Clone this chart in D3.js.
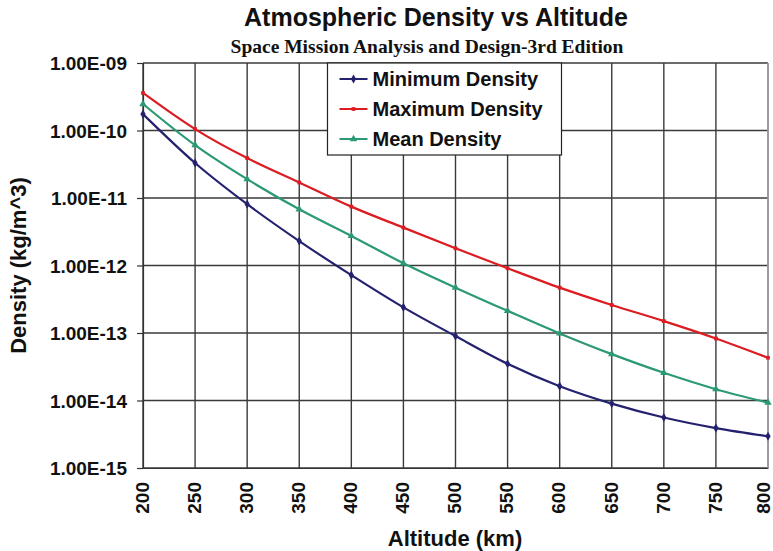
<!DOCTYPE html>
<head>
    <style>
        body { margin: 0; background: #fff; }
        svg { font-family: "Liberation Sans", Arial, sans-serif; font-weight: bold; }
        .grid line { stroke: #3a3a3a; stroke-width: 1.4px; }
        .axis path, .axis line { stroke: #333; stroke-width: 1.2px; }
        .axis text { font-weight: bold; fill: #111; font-family: "Liberation Sans", Arial, sans-serif; }
        .yaxis text { font-size: 19px; }
        .xaxis text { font-size: 19px; }
        path.series { fill: none; stroke-width: 2.2px; }
    </style>
</head>
<body>
    <script src="https://d3js.org/d3.v7.min.js"></script>
    <script>
        // data
        var altitudes = [200, 250, 300, 350, 400, 450, 500, 550, 600, 650, 700, 750, 800];
        var minDensity = [1.75e-10, 3.3e-11, 8.1e-12, 2.3e-12, 7.2e-13, 2.4e-13, 9.0e-14,
                          3.5e-14, 1.63e-14, 9.0e-15, 5.6e-15, 3.9e-15, 2.95e-15];
        var maxDensity = [3.6e-10, 1.05e-10, 3.9e-11, 1.7e-11, 7.45e-12, 3.64e-12, 1.8e-12,
                          9.1e-13, 4.7e-13, 2.6e-13, 1.5e-13, 8.3e-14, 4.3e-14];
        var meanDensity = [2.47e-10, 6.07e-11, 1.9e-11, 6.8e-12, 2.74e-12, 1.08e-12, 4.7e-13,
                           2.13e-13, 9.86e-14, 4.86e-14, 2.57e-14, 1.47e-14, 9.3e-15];
        var seriesNames = ['Minimum Density', 'Maximum Density', 'Mean Density'];
        var seriesColors = ['#24216f', '#dd1c22', '#2b9a73'];
        var yTicks = [1e-9, 1e-10, 1e-11, 1e-12, 1e-13, 1e-14, 1e-15];
        var yTickLabels = ['1.00E-09', '1.00E-10', '1.00E-11', '1.00E-12', '1.00E-13', '1.00E-14', '1.00E-15'];

        var W = 773, H = 551;
        var m = {left: 143, right: 5, top: 63, bottom: 83};
        var w = W - m.left - m.right, h = H - m.top - m.bottom;

        var svg = d3.select('body').append('svg')
                    .attr('width', W).attr('height', H);

        var x = d3.scaleLinear().domain([200, 800]).range([0, w]);
        var y = d3.scaleLog().domain([1e-15, 1e-9]).range([h, 0]);

        var g = svg.append('g')
                   .attr('transform', 'translate(' + m.left + ',' + m.top + ')');

        // grid
        var grid = g.append('g').attr('class', 'grid');
        grid.selectAll('.vx').data(altitudes).enter().append('line')
            .attr('x1', d => x(d)).attr('x2', d => x(d))
            .attr('y1', 0).attr('y2', h);
        grid.selectAll('.hy').data(yTicks).enter().append('line')
            .attr('x1', 0).attr('x2', w)
            .attr('y1', d => y(d)).attr('y2', d => y(d));
        g.append('line').attr('x1', w).attr('x2', w).attr('y1', 0).attr('y2', h)
            .attr('stroke', '#aaa').attr('stroke-width', 1.5);

        // axes
        var yAxis = d3.axisLeft(y).tickValues(yTicks)
                      .tickFormat((d, i) => yTickLabels[i]).tickSize(6).tickPadding(10);
        g.append('g').attr('class', 'axis yaxis').call(yAxis)
         .selectAll('text').attr('dy', '0.35em');

        var xAxis = d3.axisBottom(x).tickValues(altitudes).tickSize(0).tickPadding(8);
        var xa = g.append('g').attr('class', 'axis xaxis')
                  .attr('transform', 'translate(0,' + h + ')').call(xAxis);
        xa.select('.domain').attr('stroke', '#999');
        // last label sits at the right edge, nudge it in a little
        xa.selectAll('text')
          .attr('transform', 'rotate(-90)')
          .attr('text-anchor', 'end')
          .attr('x', -14)
          .attr('y', d => d === 800 ? -4 : 0)
          .attr('dy', '0.28em');

        // series
        var seriesData = [minDensity, maxDensity, meanDensity];
        var line = d3.line().curve(d3.curveMonotoneX)
                     .x((d, i) => x(altitudes[i]))
                     .y(d => y(d));

        var symbols = [d3.symbolDiamond, d3.symbolSquare, d3.symbolTriangle];
        seriesData.forEach(function(vals, k) {
            g.append('path').datum(vals)
             .attr('class', 'series')
             .attr('stroke', seriesColors[k])
             .attr('d', line);
            g.selectAll('.pt' + k).data(vals).enter().append('path')
             .attr('transform', (d, i) => 'translate(' + x(altitudes[i]) + ',' + y(d) + ')')
             .attr('d', d3.symbol().type(symbols[k]).size(k === 1 ? 14 : 24))
             .attr('fill', seriesColors[k]);
        });

        // legend
        var lg = g.append('g').attr('transform', 'translate(' + (x(380) - 3) + ',0)');
        lg.append('rect').attr('x', 0).attr('y', 0)
          .attr('width', 234).attr('height', 92)
          .attr('fill', '#fff').attr('stroke', '#222').attr('stroke-width', 1.2);
        seriesNames.forEach(function(name, k) {
            var ly = 16 + k * 30;
            lg.append('line').attr('x1', 12).attr('x2', 40)
              .attr('y1', ly).attr('y2', ly)
              .attr('stroke', seriesColors[k]).attr('stroke-width', 2);
            lg.append('path').attr('transform', 'translate(26,' + ly + ')')
              .attr('d', d3.symbol().type(symbols[k]).size(k === 1 ? 14 : 24))
              .attr('fill', seriesColors[k]);
            lg.append('text').attr('x', 45).attr('y', ly).attr('dy', '0.36em')
              .attr('font-size', 20).attr('fill', '#111').text(name);
        });

        // titles
        svg.append('text').attr('x', 436).attr('y', 26)
           .attr('text-anchor', 'middle').attr('font-size', 25).attr('fill', '#111')
           .text('Atmospheric Density vs Altitude');
        svg.append('text').attr('x', 427).attr('y', 53)
           .attr('text-anchor', 'middle').attr('font-size', 19.5).attr('fill', '#111')
           .attr('font-family', '"Liberation Serif", "Times New Roman", serif')
           .text('Space Mission Analysis and Design-3rd Edition');
        svg.append('text').attr('transform', 'translate(26,' + (m.top + h / 2) + ') rotate(-90)')
           .attr('text-anchor', 'middle').attr('font-size', 22).attr('fill', '#111')
           .text('Density (kg/m^3)');
        svg.append('text').attr('x', 455).attr('y', 546)
           .attr('text-anchor', 'middle').attr('font-size', 22).attr('fill', '#111')
           .text('Altitude (km)');
    </script>
</body>
